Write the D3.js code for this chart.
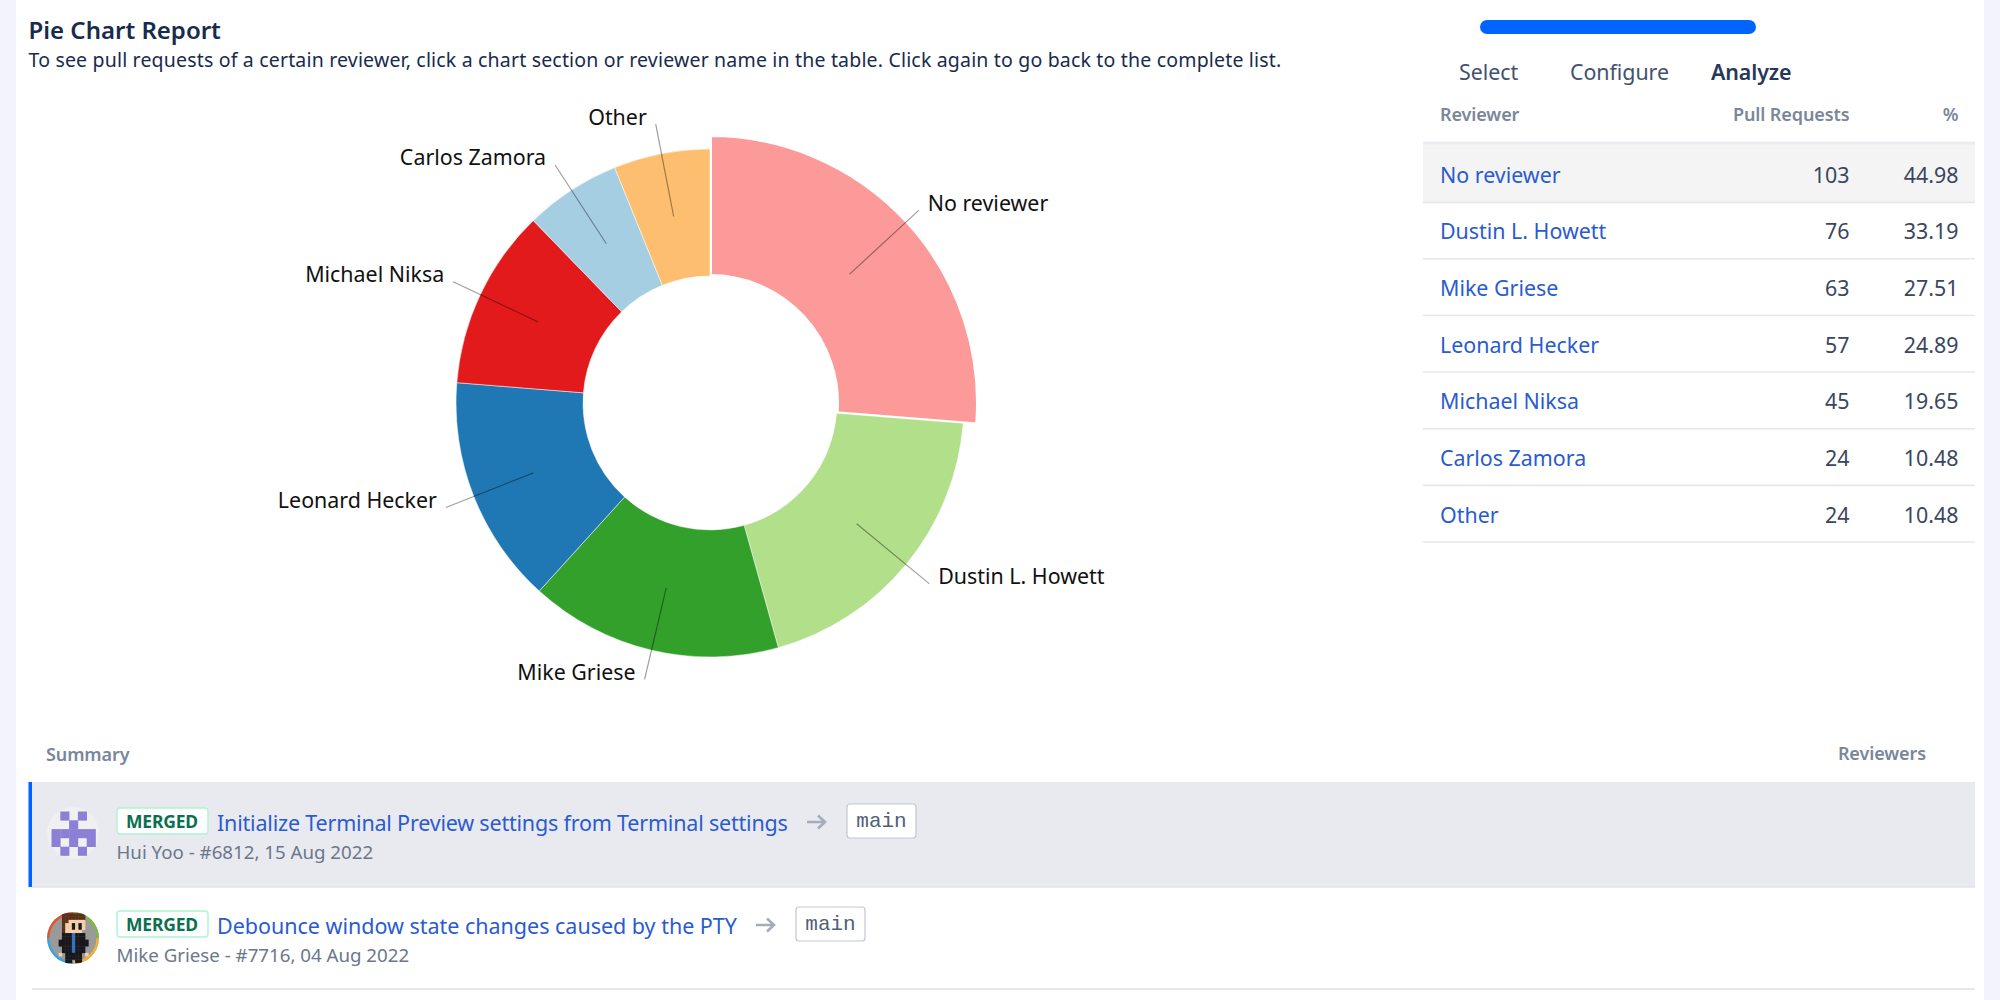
<!DOCTYPE html>
<html>
<head>
<meta charset="utf-8">
<title>Pie Chart Report</title>
<script src="https://cdn.jsdelivr.net/npm/d3@7"></script>
<style>
    html, body { margin: 0; padding: 0; background: #fff; overflow: hidden; }
    svg { display: block; }
    text { font-family: "Noto Sans", "Open Sans", sans-serif; }
</style>
</head>
<body>
<svg id="chart" width="2000" height="1000"></svg>
<script>
'use strict';

const reviewers = ["No reviewer", "Dustin L. Howett", "Mike Griese", "Leonard Hecker", "Michael Niksa", "Carlos Zamora", "Other"];
const pullRequests = [103, 76, 63, 57, 45, 24, 24];
const percents = ["44.98", "33.19", "27.51", "24.89", "19.65", "10.48", "10.48"];
const sliceColors = ["#fb9a99", "#b2df8a", "#33a02c", "#1f78b4", "#e31a1c", "#a6cee3", "#fdbf6f"];
const tabNames = ["Select", "Configure", "Analyze"];
const prTitles = ["Initialize Terminal Preview settings from Terminal settings", "Debounce window state changes caused by the PTY"];
const prMeta = ["Hui Yoo - #6812, 15 Aug 2022", "Mike Griese - #7716, 04 Aug 2022"];

const CENTER_X = 710;
const CENTER_Y = 403;
const INNER_R = 127;
const OUTER_R = 254;
const ACTIVE_R = 268;
const LEADER_IN = 190;
const LEADER_OUT = 284;

const INK = "#172b4d";
const LINK = "#2a5bd0";
const MUTED = "#7a869a";
const RULE = "#e6e7ec";

var svg = d3.select("#chart");

function label(parent, x, y, str, size, color, opts) {
    opts = opts || {};
    return parent.append("text")
        .attr("x", x)
        .attr("y", y)
        .attr("dy", "0.35em")
        .attr("text-anchor", opts.anchor || "start")
        .attr("font-size", size)
        .attr("font-weight", opts.weight || 400)
        .attr("letter-spacing", opts.spacing || 0)
        .attr("fill", color)
        .style("font-family", opts.family || null)
        .text(str);
}

// page frame
svg.append("rect").attr("width", 2000).attr("height", 1000).attr("fill", "#fff");
svg.append("rect").attr("width", 16).attr("height", 1000).attr("fill", "#f2f3fd");
svg.append("rect").attr("x", 1984).attr("width", 16).attr("height", 1000).attr("fill", "#f2f3fd");

label(svg, 28.5, 31, "Pie Chart Report", 24, INK, {weight: 600});
label(svg, 28.5, 60, "To see pull requests of a certain reviewer, click a chart section or reviewer name in the table. Click again to go back to the complete list.", 19.5, INK, {spacing: 0.18});

/* donut */
var pie = d3.pie().sort(null).value(function (d) { return d; });
var arcs = pie(pullRequests);
var color = d3.scaleOrdinal().domain(reviewers).range(sliceColors);

var donut = svg.append("g").attr("transform", "translate(" + CENTER_X + "," + CENTER_Y + ")");

var sliceArc = d3.arc()
    .innerRadius(INNER_R)
    .outerRadius(function (d) { return d.index === 0 ? ACTIVE_R : OUTER_R; });

donut.selectAll(".slice")
    .data(arcs)
    .enter()
    .append("path")
    .attr("class", "slice")
    .attr("d", sliceArc)
    .attr("fill", function (d) { return color(reviewers[d.index]); })
    .attr("stroke", "#fff")
    .attr("stroke-width", function (d) { return d.index === 0 ? 4 : 0.5; });

var leaderStart = d3.arc().innerRadius(LEADER_IN).outerRadius(LEADER_IN);
var leaderEnd = d3.arc().innerRadius(LEADER_OUT).outerRadius(LEADER_OUT);

donut.selectAll(".leader")
    .data(arcs)
    .enter()
    .append("line")
    .attr("class", "leader")
    .attr("x1", function (d) { return leaderStart.centroid(d)[0]; })
    .attr("y1", function (d) { return leaderStart.centroid(d)[1]; })
    .attr("x2", function (d) { return leaderEnd.centroid(d)[0]; })
    .attr("y2", function (d) { return leaderEnd.centroid(d)[1]; })
    .attr("stroke", "#000")
    .attr("stroke-opacity", 0.38)
    .attr("stroke-width", 1.2);

donut.selectAll(".slice-label")
    .data(arcs)
    .enter()
    .append("text")
    .attr("class", "slice-label")
    .attr("x", function (d) {
        var p = leaderEnd.centroid(d);
        return p[0] + (p[0] > 0 ? 9 : -9);
    })
    .attr("y", function (d) { return leaderEnd.centroid(d)[1] - 7; })
    .attr("dy", "0.35em")
    .attr("text-anchor", function (d) { return leaderEnd.centroid(d)[0] > 0 ? "start" : "end"; })
    .attr("font-size", 21.4)
    .attr("fill", "#111")
    .text(function (d) { return reviewers[d.index]; });

/* wizard tabs */
svg.append("rect")
    .attr("x", 1480).attr("y", 20).attr("width", 276).attr("height", 14)
    .attr("rx", 7)
    .attr("fill", "#0065ff");

var tabX = d3.scaleOrdinal().domain(tabNames).range([1459, 1570, 1711]);
tabNames.forEach(function (name) {
    var active = name === "Analyze";
    label(svg, tabX(name), 73, name, 21.4, active ? "#253858" : "#42526e", {weight: active ? 600 : 400, spacing: active ? -0.1 : -0.05});
});

/* reviewer table */
const TABLE_LEFT = 1423;
const TABLE_RIGHT = 1975;
const COL_NAME = 1440;
const COL_COUNT = 1849.5;
const COL_PCT = 1958.5;

var rowY = d3.scaleBand().domain(reviewers).range([146.5, 543]);
var table = svg.append("g");

label(table, COL_NAME, 115, "Reviewer", 18, MUTED, {weight: 600, spacing: -0.1});
label(table, COL_COUNT, 115, "Pull Requests", 18, MUTED, {weight: 600, spacing: -0.1, anchor: "end"});
label(table, COL_PCT, 115, "%", 18, MUTED, {weight: 600, anchor: "end"});

table.append("rect")
    .attr("x", TABLE_LEFT).attr("y", 143)
    .attr("width", TABLE_RIGHT - TABLE_LEFT).attr("height", 58)
    .attr("fill", "#f4f4f5");
table.append("line")
    .attr("x1", TABLE_LEFT).attr("x2", TABLE_RIGHT)
    .attr("y1", 143).attr("y2", 143)
    .attr("stroke", "#ebecf0").attr("stroke-width", 3);

reviewers.forEach(function (name, i) {
    var mid = rowY(name) + rowY.bandwidth() / 2 + 0.5;
    var bottom = rowY(name) + rowY.bandwidth() - 1;
    label(table, COL_NAME, mid, name, 21.4, LINK);
    label(table, COL_COUNT, mid, pullRequests[i], 21.4, "#3a4660", {anchor: "end"});
    label(table, COL_PCT, mid, percents[i], 21.4, "#3a4660", {anchor: "end"});
    table.append("line")
        .attr("x1", TABLE_LEFT).attr("x2", TABLE_RIGHT)
        .attr("y1", bottom).attr("y2", bottom)
        .attr("stroke", RULE).attr("stroke-width", i === 0 ? 2 : 1.6);
});

/* pull request list */
label(svg, 46, 755, "Summary", 18, MUTED, {weight: 600, spacing: -0.1});
label(svg, 1926, 754, "Reviewers", 18, MUTED, {weight: 600, spacing: -0.1, anchor: "end"});

svg.append("rect").attr("x", 28.5).attr("y", 782).attr("width", 1946.5).attr("height", 105).attr("fill", "#e9eaef");
svg.append("rect").attr("x", 28.5).attr("y", 782).attr("width", 3.5).attr("height", 105).attr("fill", "#0065ff");
svg.append("line").attr("x1", 32).attr("x2", 1975).attr("y1", 887).attr("y2", 887).attr("stroke", "#e2e3e8").attr("stroke-width", 1.6);
svg.append("line").attr("x1", 32).attr("x2", 1975).attr("y1", 989).attr("y2", 989).attr("stroke", RULE).attr("stroke-width", 2);

function prRow(top, index, titleEnd, spacing) {
    var row = svg.append("g");
    // badge
    row.append("rect")
        .attr("x", 117).attr("y", top + 4).attr("width", 91).attr("height", 26)
        .attr("rx", 3)
        .attr("fill", "#fff").attr("stroke", "#abf5d1").attr("stroke-width", 1.4);
    label(row, 162, top + 17.5, "MERGED", 17.5, "#0a7050", {weight: 700, anchor: "middle", spacing: -0.2});
    label(row, 217, top + 19, prTitles[index], 21.5, LINK, {spacing: spacing});
    // arrow to target branch
    var ax = titleEnd + 19;
    row.append("path")
        .attr("d", "M" + ax + " " + (top + 18) + "h18m-7 -6.5l7 6.5l-7 6.5")
        .attr("fill", "none").attr("stroke", "#a5adba").attr("stroke-width", 2.6);
    var bx = titleEnd + 59;
    row.append("rect")
        .attr("x", bx).attr("y", top).attr("width", 69).attr("height", 34)
        .attr("rx", 3)
        .attr("fill", "#fff").attr("stroke", "#c1c7d0").attr("stroke-width", 1.2);
    label(row, bx + 34.5, top + 16, "main", 21, "#505f79", {anchor: "middle", family: "'Liberation Mono', 'DejaVu Sans Mono', monospace"});
    label(row, 116.5, top + 48.5, prMeta[index], 18.7, "#6b778c");
}
prRow(804, 0, 788, -0.195);
prRow(907, 1, 737, -0.015);

/* avatars */
function pixelIcon(parent, cx, cy, cell, rows, palette) {
    var n = rows[0].length;
    var px = d3.scaleBand().domain(d3.range(n)).range([cx - n * cell / 2, cx + n * cell / 2]);
    var py = d3.scaleBand().domain(d3.range(rows.length)).range([cy - rows.length * cell / 2, cy + rows.length * cell / 2]);
    rows.forEach(function (r, y) {
        r.split("").forEach(function (c, x) {
            if (palette[c]) {
                parent.append("rect")
                    .attr("x", px(x)).attr("y", py(y))
                    .attr("width", cell + 0.3).attr("height", cell + 0.3)
                    .attr("fill", palette[c]);
            }
        });
    });
}

svg.append("circle").attr("cx", 73).attr("cy", 833).attr("r", 26).attr("fill", "#f0f0f1");
pixelIcon(svg, 73.5, 833.5, 8.8, [".x.x.", "..x..", "xxxxx", "x.x.x", ".x.x."], {x: "#8b80d6"});

var clip = svg.append("defs").append("clipPath").attr("id", "avatarClip");
clip.append("circle").attr("cx", 73).attr("cy", 938).attr("r", 26);
var man = svg.append("g").attr("clip-path", "url(#avatarClip)");
man.append("rect").attr("x", 47).attr("y", 912).attr("width", 52).attr("height", 52).attr("fill", "#9a9a9a");
var ringArc = d3.arc().innerRadius(23.5).outerRadius(26);
var ringColors = ["#7cbb3e", "#f2b233", "#3aa3e3", "#e2562f"];
man.selectAll(".ring")
    .data(d3.pie().value(1).sort(null)(ringColors))
    .enter()
    .append("path")
    .attr("transform", "translate(73,938)")
    .attr("d", ringArc)
    .attr("fill", function (d) { return d.data; });
pixelIcon(man, 73.5, 938, 3.3, [
    ".hhhhhhh.",
    ".hhhhhhh.",
    ".hhsssss.",
    ".hssksks.",
    ".hssksks.",
    ".hsssss..",
    ".kkkbkkk.",
    ".kkkbkkk.",
    "kkkkbkkkk",
    "kkkkbkkkk",
    ".kkkbkkk.",
    ".kkkbkkk.",
    "s.kkkkk.s",
    "..kkkkk..",
    "..kk.kk.."
], {h: "#5b2f1b", s: "#f7cfa8", k: "#17171c", b: "#2f74c0"});
</script>
</body>
</html>
